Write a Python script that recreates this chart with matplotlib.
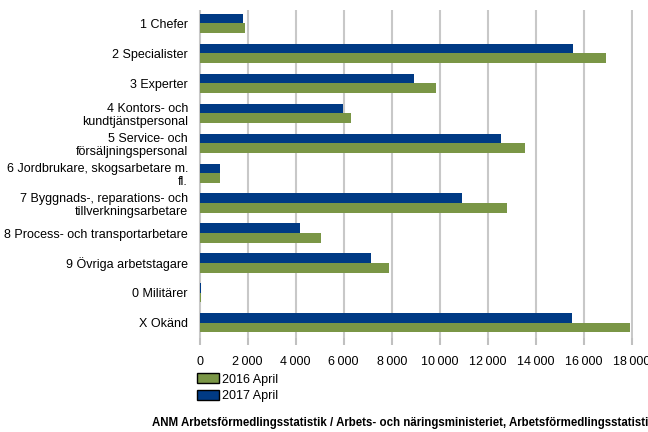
import matplotlib.pyplot as plt
import numpy as np

plt.rcParams['font.family'] = ['Liberation Sans', 'DejaVu Sans']

categories = [
    "1 Chefer",
    "2 Specialister",
    "3 Experter",
    "4 Kontors- och\nkundtjänstpersonal",
    "5 Service- och\nförsäljningspersonal",
    "6 Jordbrukare, skogsarbetare m.\nfl.",
    "7 Byggnads-, reparations- och\ntillverkningsarbetare",
    "8 Process- och transportarbetare",
    "9 Övriga arbetstagare",
    "0 Militärer",
    "X Okänd",
]
values_2017 = [1800, 15550, 8920, 5980, 12570, 850, 10910, 4180, 7140, 40, 15520]
values_2016 = [1900, 16930, 9830, 6310, 13530, 870, 12780, 5060, 7880, 40, 17920]
xticks = np.arange(0, 18001, 2000)
xtick_labels = [f"{v:,}".replace(",", "\u2009") if v >= 1000 else str(v) for v in xticks]

blue = "#003a84"
green = "#7a9646"

fig = plt.figure(figsize=(6.48, 4.32), dpi=100)
ax = fig.add_axes([0.305, 0.218, 0.672, 0.759])

y = np.arange(len(categories))
h = 0.32
b17 = ax.barh(y - h / 2, values_2017, height=h, color=blue, zorder=3)
b16 = ax.barh(y + h / 2, values_2016, height=h, color=green, zorder=3)

ax.set_ylim(10.5, -0.45)
ax.set_xlim(-80, 18050)
ax.set_yticks(y)
ax.set_yticklabels(categories, fontsize=9, linespacing=1.15)
ax.set_xticks(xticks)
ax.set_xticklabels(xtick_labels, fontsize=9)
ax.tick_params(axis='y', length=0, pad=7)
ax.tick_params(axis='x', length=5, color="#c0c0c0", width=1.5, pad=8)
ax.xaxis.grid(True, color="#c8c8c8", linewidth=1.5, zorder=0)
for s in ax.spines.values():
    s.set_visible(False)

fig.legend(
    [b16, b17], ["2016 April", "2017 April"],
    loc="upper left", bbox_to_anchor=(0.297, 0.147),
    frameon=False, fontsize=9, handlelength=1.7, handleheight=0.8,
    handletextpad=0.25, labelspacing=0.35, borderaxespad=0,
)
for p in fig.legends[0].get_patches():
    p.set_edgecolor("black")
    p.set_linewidth(1.0)

fig.text(0.234, 0.006,
         "ANM Arbetsförmedlingsstatistik / Arbets- och näringsministeriet, Arbetsförmedlingsstatistik",
         fontsize=8.3, fontweight="bold", ha="left", va="bottom")

fig.savefig("out.png", dpi=100)
